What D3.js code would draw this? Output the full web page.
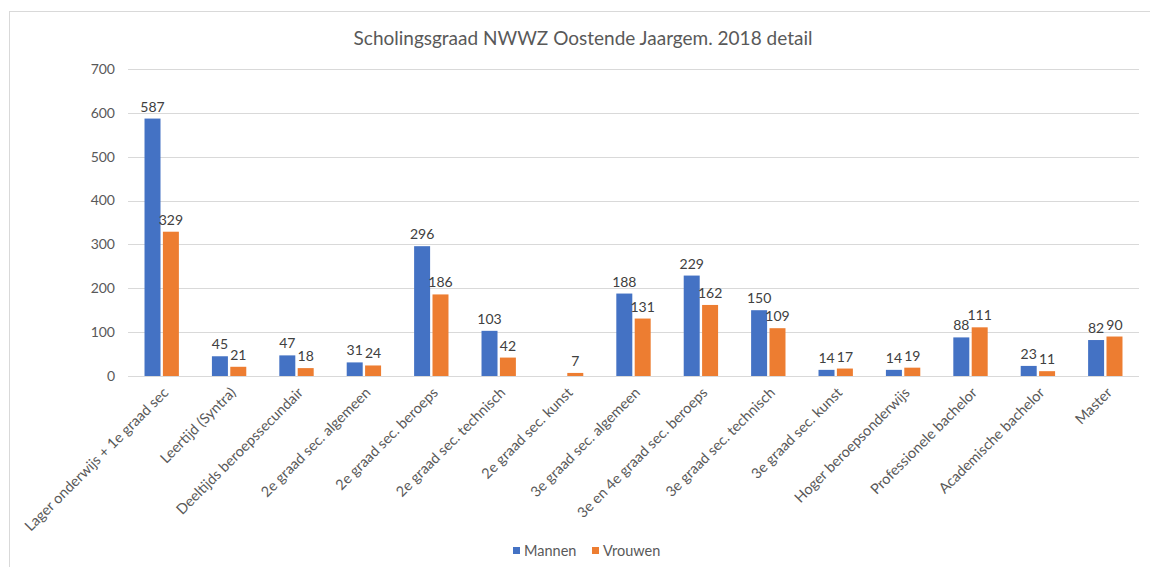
<!DOCTYPE html>
<html>
<head>
<meta charset="utf-8">
<script src="https://cdn.jsdelivr.net/npm/d3@7"></script>
<style>
  body { margin: 0; background: #fff; }
  svg text { font-family: Lato, "Open Sans", sans-serif; }
</style>
</head>
<body>
<svg id="chart"></svg>
<script>
// categorieën en waarden uit de grafiek
const categories = [
  "Lager onderwijs + 1e graad sec", "Leertijd (Syntra)", "Deeltijds beroepssecundair",
  "2e graad sec. algemeen", "2e graad sec. beroeps", "2e graad sec. technisch",
  "2e graad sec. kunst", "3e graad sec. algemeen", "3e en 4e graad sec. beroeps",
  "3e graad sec. technisch", "3e graad sec. kunst", "Hoger beroepsonderwijs",
  "Professionele bachelor", "Academische bachelor", "Master"
];
const mannen = [587, 45, 47, 31, 296, 103, null, 188, 229, 150, 14, 14, 88, 23, 82];
const vrouwen = [329, 21, 18, 24, 186, 42, 7, 131, 162, 109, 17, 19, 111, 11, 90];
const seriesNames = ["Mannen", "Vrouwen"];
const colors = ["#4472C4", "#ED7D31"];
const yTicks = [0, 100, 200, 300, 400, 500, 600, 700];

const W = 1150, H = 567;
const margin = { top: 69, right: 11, bottom: 191, left: 128 };
const width = W - margin.left - margin.right;
const height = H - margin.top - margin.bottom;

const svg = d3.select('#chart').attr('width', W).attr('height', H);

// rand van de grafiek
svg.append('rect')
  .attr('x', 9.5).attr('y', 11.5)
  .attr('width', W).attr('height', H)
  .attr('fill', 'none').attr('stroke', '#d9d9d9');

svg.append('text')
  .attr('x', 583).attr('y', 45)
  .attr('text-anchor', 'middle')
  .attr('font-size', 19)
  .attr('fill', '#595959')
  .text('Scholingsgraad NWWZ Oostende Jaargem. 2018 detail');

const g = svg.append('g').attr('transform', `translate(${margin.left},${margin.top})`);

const x = d3.scaleBand().domain(categories).range([0, width]).paddingInner(0.49).paddingOuter(0.245);
const xs = d3.scaleBand().domain(seriesNames).range([0, x.bandwidth()]).paddingInner(0.13);
const y = d3.scaleLinear().domain([0, 700]).range([height, 0]);

// rasterlijnen
g.selectAll('.grid').data(yTicks).enter().append('line')
  .attr('x1', 0).attr('x2', width)
  .attr('y1', d => Math.round(y(d)) + 0.5).attr('y2', d => Math.round(y(d)) + 0.5)
  .attr('stroke', '#d9d9d9').attr('stroke-width', 1);

g.selectAll('.ytick').data(yTicks).enter().append('text')
  .attr('x', -13).attr('y', d => y(d)).attr('dy', '0.35em')
  .attr('text-anchor', 'end').attr('font-size', 14).attr('fill', '#595959')
  .text(d => d);

const rows = categories.map((c, i) => ({ cat: c, vals: [mannen[i], vrouwen[i]] }));

const groups = g.selectAll('.cat').data(rows).enter().append('g')
  .attr('transform', d => `translate(${x(d.cat)},0)`);

groups.selectAll('rect')
  .data(d => d.vals.map((v, j) => ({ v, s: seriesNames[j], c: colors[j] })).filter(e => e.v !== null))
  .enter().append('rect')
  .attr('x', d => xs(d.s))
  .attr('width', xs.bandwidth())
  .attr('y', d => y(d.v))
  .attr('height', d => height - y(d.v))
  .attr('fill', d => d.c);

groups.selectAll('.val')
  .data(d => d.vals.map((v, j) => ({ v, s: seriesNames[j] })).filter(e => e.v !== null))
  .enter().append('text')
  .attr('x', d => xs(d.s) + xs.bandwidth() / 2)
  .attr('y', d => y(d.v) - 7)
  .attr('text-anchor', 'middle').attr('font-size', 14).attr('fill', '#404040')
  .text(d => d.v);

// categorie labels, schuin
g.selectAll('.xlab').data(categories).enter().append('text')
  .attr('transform', d => `translate(${x(d) + x.bandwidth() / 2 + 4},${height + 14}) rotate(-45)`)
  .attr('text-anchor', 'end').attr('dy', '0.35em')
  .attr('font-size', 14.5).attr('fill', '#595959')
  .text(d => d);

// legenda
const legend = svg.append('g').attr('transform', 'translate(513,551)');
const lx = [0, 79];
seriesNames.forEach((s, i) => {
  legend.append('rect').attr('x', lx[i]).attr('y', -4).attr('width', 7).attr('height', 7).attr('fill', colors[i]);
  legend.append('text').attr('x', lx[i] + 11).attr('y', 0).attr('dy', '0.35em')
    .attr('font-size', 14.5).attr('fill', '#595959').text(s);
});
</script>
</body>
</html>
